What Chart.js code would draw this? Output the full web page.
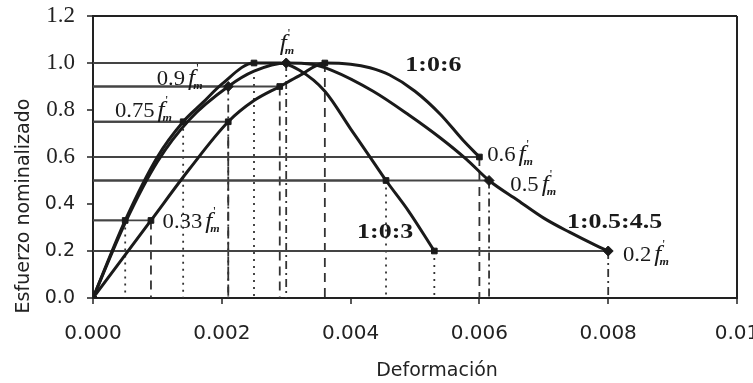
<!DOCTYPE html>
<html>
<head>
<meta charset="utf-8">
<script src="https://cdn.jsdelivr.net/npm/chart.js@4"></script>
<style>
  html, body { margin: 0; padding: 0; background: #fff; }
  #wrap { width: 753px; height: 383px; }
</style>
</head>
<body>
<div id="wrap"><canvas id="chart" width="753" height="383"></canvas></div>
<script>
// ---------- Data ----------
const mixLabels = ["1:0:3", "1:0:6", "1:0.5:4.5"];

// 1:0:3
const strain103 = [0, 0.0005, 0.0010, 0.0014, 0.0017, 0.0020, 0.0025, 0.0029, 0.0032, 0.0036, 0.0040, 0.0044, 0.00455, 0.0049, 0.0053];
const stress103 = [0, 0.33, 0.60, 0.75, 0.83, 0.91, 1.00, 1.00, 0.97, 0.88, 0.72, 0.56, 0.50, 0.37, 0.20];
const keyStrain103 = [0.0005, 0.0014, 0.0025, 0.00455, 0.0053];
const keyStress103 = [0.33, 0.75, 1.00, 0.50, 0.20];

// 1:0:6
const strain106 = [0, 0.0009, 0.0015, 0.0021, 0.0025, 0.0029, 0.0032, 0.0036, 0.0040, 0.0043, 0.0046, 0.0050, 0.0054, 0.00575, 0.0060];
const stress106 = [0, 0.33, 0.55, 0.75, 0.84, 0.90, 0.945, 1.00, 0.995, 0.98, 0.95, 0.88, 0.78, 0.67, 0.60];
const keyStrain106 = [0.0009, 0.0021, 0.0029, 0.0036, 0.0060];
const keyStress106 = [0.33, 0.75, 0.90, 1.00, 0.60];

// 1:0.5:4.5
const strain1545 = [0, 0.0005, 0.0010, 0.0015, 0.0021, 0.0025, 0.0030, 0.0034, 0.0037, 0.00435, 0.0049, 0.0054, 0.0058, 0.00615, 0.0066, 0.0070, 0.0074, 0.0078, 0.0080];
const stress1545 = [0, 0.32, 0.58, 0.76, 0.90, 0.965, 1.00, 0.995, 0.97, 0.88, 0.78, 0.68, 0.59, 0.50, 0.415, 0.34, 0.28, 0.225, 0.20];
const keyStrain1545 = [0, 0.0021, 0.0030, 0.00615, 0.0080];
const keyStress1545 = [0, 0.90, 1.00, 0.50, 0.20];

const xTickLabels = ["0.000", "0.002", "0.004", "0.006", "0.008", "0.01"];
const yTickLabels = ["0.0", "0.2", "0.4", "0.6", "0.8", "1.0", "1.2"];

// ---------- Text placed on the plot (data coords of left/baseline) ----------
const fmNotes = [
  { coef: "0.9",  x: 0.00099, y: 0.905 },
  { coef: "0.75", x: 0.00034, y: 0.77 },
  { coef: "0.33", x: 0.00108, y: 0.30 },
  { coef: "",     x: 0.00290, y: 1.055 },
  { coef: "0.6",  x: 0.00612, y: 0.583 },
  { coef: "0.5",  x: 0.00648, y: 0.455 },
  { coef: "0.2",  x: 0.00823, y: 0.157 }
];
const mixNotes = [
  { text: mixLabels[0], x: 0.00410, y: 0.255 },
  { text: mixLabels[1], x: 0.00485, y: 0.966 },
  { text: mixLabels[2], x: 0.00736, y: 0.30 }
];

const INK = "#1a1a1a";
const SERIF = "'Liberation Serif', 'Times New Roman', serif";
const SANS = "'DejaVu Sans', sans-serif";

// ---------- Helpers ----------
function toPoints(xs, ys) {
  return xs.map((x, i) => ({ x: x, y: ys[i] }));
}

// horizontal guides from the stress axis to each key point
function hGuides(xs, ys) {
  const out = [];
  xs.forEach((x, i) => {
    out.push({ x: 0, y: ys[i] }, { x: x, y: ys[i] }, { x: x, y: null });
  });
  return out;
}

// vertical guides from each key point down to zero stress
function vGuides(xs, ys) {
  const out = [];
  xs.forEach((x, i) => {
    out.push({ x: x, y: ys[i] }, { x: x, y: 0 }, { x: x, y: null });
  });
  return out;
}

function curve(label, xs, ys) {
  return {
    label: label,
    data: toPoints(xs, ys),
    showLine: true,
    borderColor: INK,
    borderWidth: 3,
    pointRadius: 0,
    cubicInterpolationMode: "monotone",
    order: 1
  };
}

function markers(xs, ys, style) {
  return {
    data: toPoints(xs, ys),
    showLine: false,
    pointStyle: style,
    pointRadius: style === "rectRot" ? 5 : 4,
    backgroundColor: INK,
    borderColor: INK,
    borderWidth: 1,
    order: 0
  };
}

function guide(data, dash, color) {
  return {
    data: data,
    showLine: true,
    spanGaps: false,
    borderColor: color,
    borderWidth: 1.8,
    borderDash: dash,
    pointRadius: 0,
    tension: 0,
    order: 3
  };
}

// text squeezed/stretched horizontally, left/baseline at (x, y)
function wideText(ctx, text, x, y, sx) {
  ctx.save();
  ctx.translate(x, y);
  ctx.scale(sx, 1);
  ctx.fillText(text, 0, 0);
  const w = ctx.measureText(text).width * sx;
  ctx.restore();
  return w;
}

function drawFm(ctx, x, y) {
  ctx.font = "italic 23px " + SERIF;
  const w = wideText(ctx, "f", x, y, 1.1);
  ctx.font = "italic bold 11px " + SERIF;
  wideText(ctx, "m", x + w - 2, y + 4, 1.1);
  ctx.font = "13px " + SERIF;
  ctx.fillText("'", x + w + 1, y - 13);
}

// ---------- Annotation plugin ----------
const notesPlugin = {
  id: "notes",
  afterDatasetsDraw(chart) {
    const ctx = chart.ctx;
    const xs = chart.scales.x;
    const ys = chart.scales.y;
    ctx.save();
    ctx.fillStyle = INK;
    ctx.textAlign = "left";
    ctx.textBaseline = "alphabetic";

    fmNotes.forEach(n => {
      const px = xs.getPixelForValue(n.x);
      const py = ys.getPixelForValue(n.y);
      let off = 0;
      if (n.coef) {
        ctx.font = "21px " + SERIF;
        off = wideText(ctx, n.coef, px, py, 1.08) + 3;
      }
      drawFm(ctx, px + off, py);
    });

    ctx.font = "bold 22px " + SERIF;
    mixNotes.forEach(n => {
      wideText(ctx, n.text, xs.getPixelForValue(n.x), ys.getPixelForValue(n.y), 1.18);
    });

    // axis titles
    ctx.font = "19px " + SANS;
    ctx.fillStyle = "#222";
    ctx.textAlign = "center";
    ctx.textBaseline = "middle";
    ctx.fillText("Deformación", 437, 371);
    ctx.translate(24, 206);
    ctx.rotate(-Math.PI / 2);
    ctx.fillText("Esfuerzo nominalizado", 0, 0);
    ctx.restore();
  }
};

// ---------- Chart ----------
const frameColor = "#222";
const isNear = (a, b) => Math.abs(a - b) < 1e-9;

new Chart(document.getElementById("chart"), {
  type: "scatter",
  data: {
    datasets: [
      curve(mixLabels[0], strain103, stress103),
      curve(mixLabels[1], strain106, stress106),
      curve(mixLabels[2], strain1545, stress1545),
      markers(keyStrain103, keyStress103, "rect"),
      markers(keyStrain106, keyStress106, "rect"),
      markers(keyStrain1545, keyStress1545, "rectRot"),
      guide(hGuides(keyStrain103, keyStress103), [], "#444"),
      guide(hGuides(keyStrain106, keyStress106), [], "#444"),
      guide(hGuides(keyStrain1545, keyStress1545), [], "#444"),
      guide(vGuides(keyStrain103, keyStress103), [2, 5], "#333"),
      guide(vGuides(keyStrain106, keyStress106), [9, 6], "#333"),
      guide(vGuides(keyStrain1545, keyStress1545), [8, 4, 2, 4], "#333")
    ]
  },
  options: {
    responsive: false,
    animation: false,
    layout: { padding: { top: 16, right: 16, left: 0, bottom: 0 } },
    plugins: {
      legend: { display: false },
      tooltip: { enabled: false }
    },
    scales: {
      x: {
        type: "linear",
        min: 0,
        max: 0.01,
        ticks: {
          stepSize: 0.002,
          padding: 18,
          color: "#222",
          font: { family: SANS, size: 20 },
          maxRotation: 0,
          callback: (v, i) => xTickLabels[i]
        },
        grid: {
          color: c => (c.tick && isNear(c.tick.value, 0.01)) ? frameColor : "transparent",
          lineWidth: 2,
          tickColor: frameColor,
          tickLength: 6,
          tickWidth: 1.5
        },
        border: { color: frameColor, width: 2 },
        afterFit: s => { s.height = 85; s.paddingLeft = 0; s.paddingRight = 0; }
      },
      y: {
        type: "linear",
        min: 0,
        max: 1.2,
        ticks: {
          stepSize: 0.2,
          padding: 12,
          color: "#222",
          font: c => (c.tick && c.tick.value > 0.5)
            ? { family: SERIF, size: 23 }
            : { family: SANS, size: 19 },
          callback: (v, i) => yTickLabels[i]
        },
        grid: {
          color: c => (c.tick && isNear(c.tick.value, 1.2)) ? frameColor : "transparent",
          lineWidth: 2,
          tickColor: frameColor,
          tickLength: 6,
          tickWidth: 1.5
        },
        border: { color: frameColor, width: 2 },
        afterFit: s => { s.width = 93; s.paddingTop = 0; s.paddingBottom = 0; }
      }
    }
  },
  plugins: [notesPlugin]
});
</script>
</body>
</html>
